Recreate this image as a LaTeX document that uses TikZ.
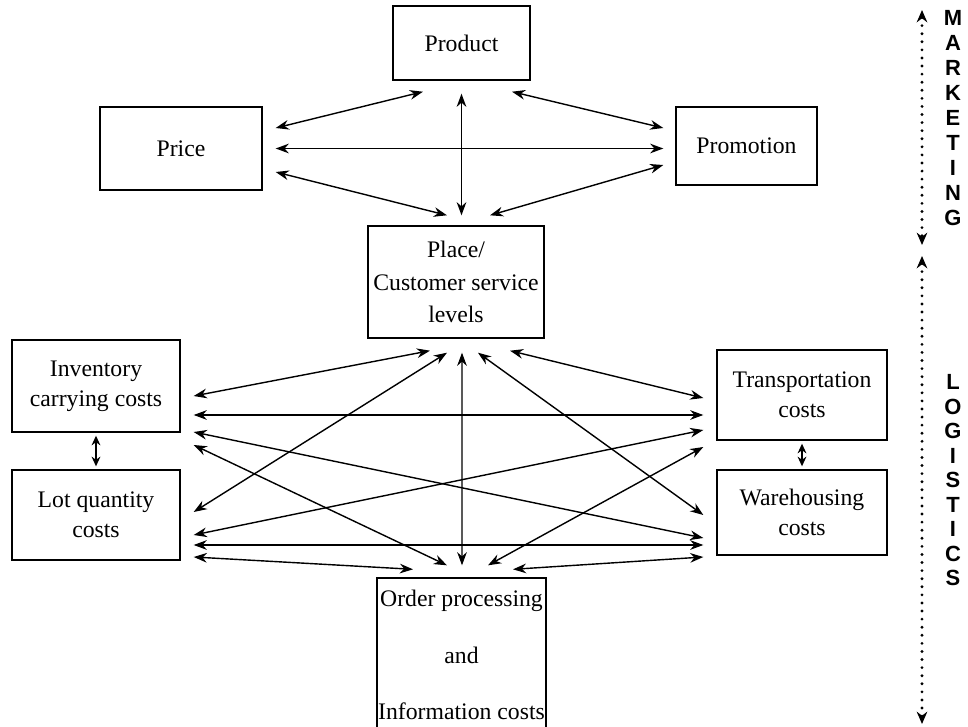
\documentclass[tikz,border=0pt]{standalone}
\usepackage{fontspec}
\setmainfont{Liberation Serif}
\newfontfamily\sidefont{Liberation Sans}
\usetikzlibrary{arrows.meta,calc}

\begin{document}
\begin{tikzpicture}[x=0.02cm, y=-0.02cm,
  box/.style={draw, thick, align=center, inner sep=0pt, font=\fontsize{13.5}{17}\selectfont},
  link/.style={{Stealth[length=7.5pt,width=5.5pt]}-{Stealth[length=7.5pt,width=5.5pt]}, line width=0.8pt},
  shortlink/.style={{Stealth[length=5.5pt,width=5pt]}-{Stealth[length=5.5pt,width=5pt]}, line width=0.8pt},
  dotlink/.style={{Stealth[length=7pt,width=6pt]}-{Stealth[length=7pt,width=6pt]}, line width=1.8pt, dash pattern=on 0pt off 4.6pt, line cap=round},
  letter/.style={font=\sidefont\bfseries\fontsize{12.5}{15}\selectfont, inner sep=0pt}]

\useasboundingbox (0,0) rectangle (968,727);

% Marketing mix
\node[box, minimum width=2.74cm, minimum height=1.48cm] (product) at (461.5,43) {Product};
\node[box, minimum width=3.24cm, minimum height=1.66cm] (price) at (181,148.5) {Price};
\node[box, minimum width=2.82cm, minimum height=1.56cm] (promotion) at (746.5,146) {Promotion};
\node[box, minimum width=3.52cm, minimum height=2.24cm, font=\fontsize{13.5}{18.5}\selectfont] (place) at (456,282) {Place/\\Customer service\\levels};

% Logistics costs
\node[box, minimum width=3.36cm, minimum height=1.84cm] (inventory) at (96,386) {Inventory\\carrying costs};
\node[box, minimum width=3.4cm, minimum height=1.8cm] (transport) at (802,395) {Transportation\\costs};
\node[box, minimum width=3.36cm, minimum height=1.8cm] (lot) at (96,515) {Lot quantity\\costs};
\node[box, minimum width=3.4cm, minimum height=1.7cm] (warehouse) at (802,512.5) {Warehousing\\costs};
\node[box, minimum width=3.38cm, minimum height=3.08cm] (order) at (461.5,655) {Order processing\\[15pt]and\\[15pt]Information costs};

% Marketing links
\draw[link] ($(product.south)+(-38.5,11)$) -- ($(price.east)+(13,-20.5)$);
\draw[link] ($(product.south)+(50.5,11)$) -- ($(promotion.west)+(-12,-18)$);
\draw[link] ($(product.south)+(0,13)$) -- ($(product.south |- place.north)+(0,-10)$);
\draw[link] ($(price.east)+(13,0)$) -- ($(promotion.west |- price.east)+(-12,0)$);
\draw[link] ($(price.east)+(13,23.5)$) -- ($(place.north)+(-9,-10)$);
\draw[link] ($(promotion.west)+(-12,19)$) -- ($(place.north)+(34,-10)$);

% Place to logistics costs
\draw[link] ($(place.south)+(-26,12)$) -- ($(inventory.east)+(13,10)$);
\draw[link] ($(place.south)+(54,12)$) -- ($(transport.west)+(-13,3)$);
\draw[link] ($(place.south)+(-9,14)$) -- ($(lot.east)+(13,-3)$);
\draw[link] ($(place.south)+(22,14)$) -- ($(warehouse.west)+(-13,2.5)$);
\draw[link] ($(place.south)+(6,14)$) -- ($(order.north)+(0.5,-12)$);

% Between the costs
\draw[link] ($(inventory.east)+(13,29)$) -- ($(transport.west |- inventory.east)+(-13,29)$);
\draw[link] ($(inventory.east)+(13,46)$) -- ($(warehouse.west)+(-13,25.5)$);
\draw[link] ($(lot.east)+(13,20)$) -- ($(transport.west)+(-13,35)$);
\draw[link] ($(inventory.east)+(13,59)$) -- ($(order.north)+(-14.5,-12)$);
\draw[link] ($(transport.west)+(-13,52)$) -- ($(order.north)+(26.5,-12)$);
\draw[link] ($(lot.east)+(13,30)$) -- ($(warehouse.west |- lot.east)+(-13,30)$);
\draw[link] ($(lot.east)+(13,42)$) -- ($(order.north)+(-48.5,-8)$);
\draw[link] ($(warehouse.west)+(-13,44.5)$) -- ($(order.north)+(51.5,-8)$);
\draw[shortlink] ($(inventory.south)+(0,3)$) -- ($(lot.north)+(0,-3)$);
\draw[shortlink] ($(transport.south)+(0,3)$) -- ($(warehouse.north)+(0,-3)$);

% Side scale
\coordinate (mtop) at (922,10);
\coordinate (mbot) at (922,245);
\coordinate (ltop) at (922,256);
\coordinate (lbot) at (922,724);
\draw[dotlink] (mtop) -- (mbot);
\draw[dotlink] (ltop) -- (lbot);
\foreach \ch [count=\i] in {M,A,R,K,E,T,I,N,G}
  \node[letter] (mk\i) at (953,18+25*\i-25) {\ch};
\foreach \ch [count=\i] in {L,O,G,I,S,T,I,C,S}
  \node[letter] (lg\i) at (953,382+24.5*\i-24.5) {\ch};

\end{tikzpicture}
\end{document}
